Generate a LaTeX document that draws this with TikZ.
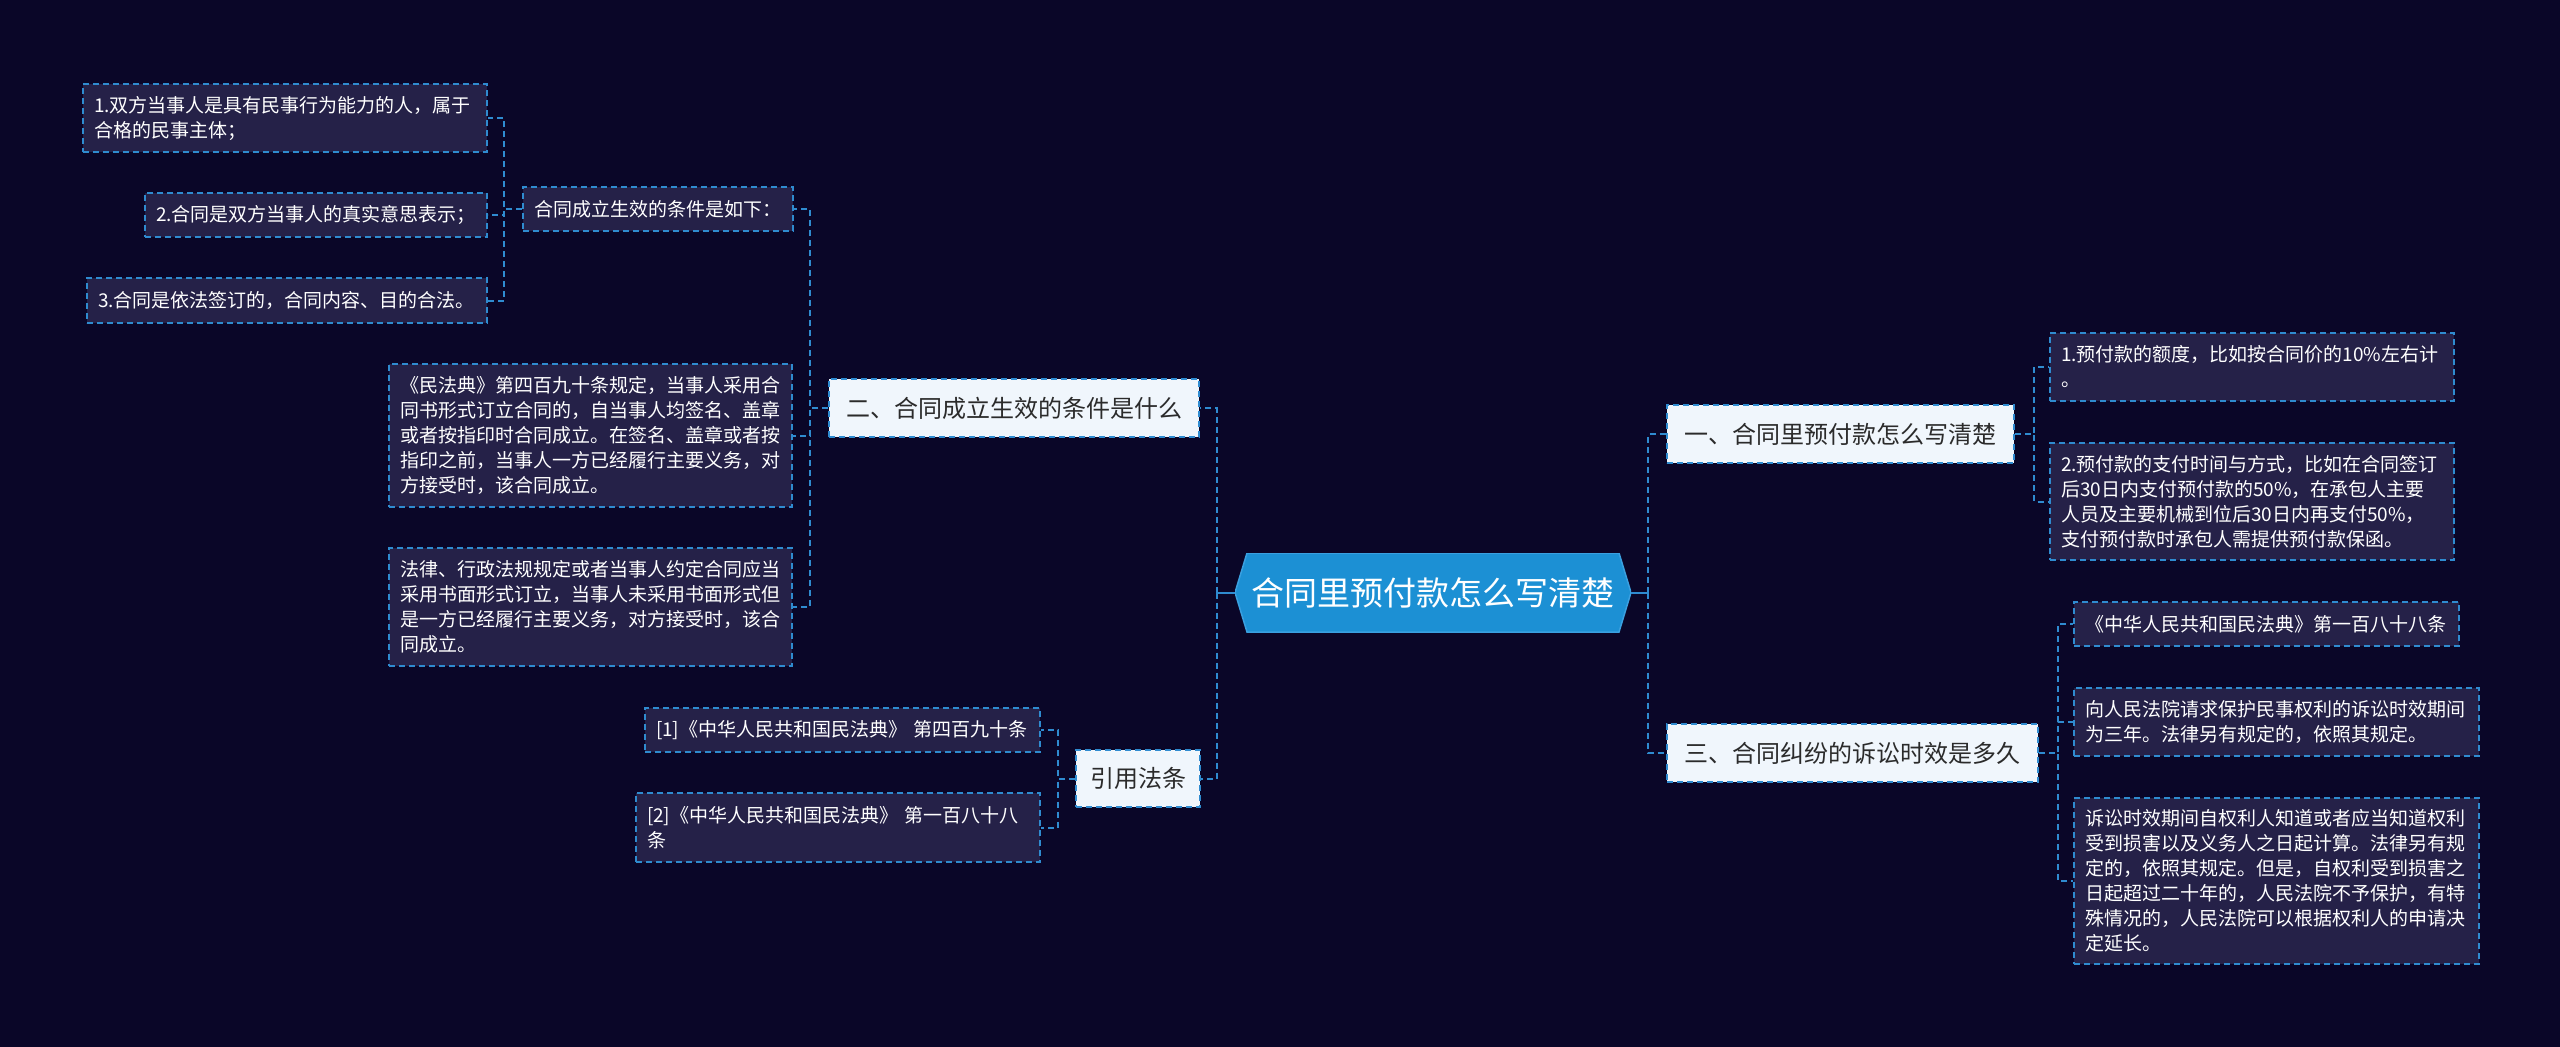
\documentclass[tikz,border=0pt]{standalone}
\usepackage{fontspec}
\setmainfont{Noto Sans CJK SC}
\usetikzlibrary{calc}
\definecolor{bgc}{HTML}{0A0628}
\definecolor{leaffill}{HTML}{252148}
\definecolor{lineblue}{HTML}{2F8BD0}
\definecolor{topfill}{HTML}{F0F6FC}
\definecolor{toptext}{HTML}{2B2B2B}
\definecolor{hexfill}{HTML}{1C90D4}
\definecolor{hexedge}{HTML}{3AA0E0}
\tikzset{
  boxbase/.style={anchor=north west, inner sep=0pt, line width=2pt, dash pattern=on 6pt off 4pt, draw=lineblue},
  leaf/.style={boxbase, fill=leaffill, text=white, font=\fontsize{19}{25}\selectfont, align=left, inner xsep=11pt},
  lvone/.style={boxbase, fill=topfill, text=toptext, font=\fontsize{24}{30}\selectfont},
  conn/.style={draw=lineblue, line width=2pt, dash pattern=on 6pt off 4pt},
  solidconn/.style={draw=lineblue, line width=2pt},
}
\begin{document}
\begin{tikzpicture}[x=1pt,y=-1pt]
\useasboundingbox (0,0) rectangle (2560,1047);
\fill[bgc] (0,0) rectangle (2560,1047);

% center
\node[minimum width=396pt, minimum height=79pt, inner sep=0pt, text=white,
  font=\fontsize{33}{40}\selectfont,
  path picture={\draw[fill=hexfill, draw=hexedge, line width=1.5pt]
    ([xshift=12pt]path picture bounding box.north west) --
    ([xshift=-12pt]path picture bounding box.north east) --
    (path picture bounding box.east) --
    ([xshift=-12pt]path picture bounding box.south east) --
    ([xshift=12pt]path picture bounding box.south west) --
    (path picture bounding box.west) -- cycle;}] (M) at (1433,592.5) {合同里预付款怎么写清楚};

% left side
\node[leaf, text width=382pt, minimum height=68pt] (a1) at (82,83) {1.双方当事人是具有民事行为能力的人，属于\\合格的民事主体；};
\node[leaf, text width=320pt, minimum height=44pt] (a2) at (144,192) {2.合同是双方当事人的真实意思表示；};
\node[leaf, text width=378pt, minimum height=45pt] (a3) at (86,277) {3.合同是依法签订的，合同内容、目的合法。};
\node[leaf, text width=248pt, minimum height=44pt] (b) at (522,186) {合同成立生效的条件是如下：};
\node[leaf, text width=381pt, minimum height=143pt] (c1) at (388,363) {《民法典》第四百九十条规定，当事人采用合\\同书形式订立合同的，自当事人均签名、盖章\\或者按指印时合同成立。在签名、盖章或者按\\指印之前，当事人一方已经履行主要义务，对\\方接受时，该合同成立。};
\node[leaf, text width=381pt, minimum height=118pt] (c2) at (388,547) {法律、行政法规规定或者当事人约定合同应当\\采用书面形式订立，当事人未采用书面形式但\\是一方已经履行主要义务，对方接受时，该合\\同成立。};
\node[lvone, minimum width=370pt, minimum height=58pt] (B) at (828,378) {二、合同成立生效的条件是什么};
\node[leaf, text width=373pt, minimum height=44pt] (d1) at (644,707) {[1]《中华人民共和国民法典》 第四百九十条};
\node[leaf, text width=382pt, minimum height=69pt] (d2) at (635,792) {[2]《中华人民共和国民法典》 第一百八十八\\条};
\node[lvone, minimum width=124pt, minimum height=57pt] (D) at (1075,749) {引用法条};

% right side
\node[lvone, minimum width=347pt, minimum height=58pt] (R1) at (1666,404) {一、合同里预付款怎么写清楚};
\node[lvone, minimum width=371pt, minimum height=58pt] (R3) at (1666,723) {三、合同纠纷的诉讼时效是多久};
\node[leaf, text width=382pt, minimum height=68pt] (e1) at (2049,332) {1.预付款的额度，比如按合同价的10\%左右计\\。};
\node[leaf, text width=382pt, minimum height=117pt] (e2) at (2049,442) {2.预付款的支付时间与方式，比如在合同签订\\后30日内支付预付款的50\%，在承包人主要\\人员及主要机械到位后30日内再支付50\%，\\支付预付款时承包人需提供预付款保函。};
\node[leaf, text width=363pt, minimum height=44pt] (f1) at (2073,601) {《中华人民共和国民法典》第一百八十八条};
\node[leaf, text width=383pt, minimum height=68pt] (f2) at (2073,687) {向人民法院请求保护民事权利的诉讼时效期间\\为三年。法律另有规定的，依照其规定。};
\node[leaf, text width=383pt, minimum height=166pt] (f3) at (2073,797) {诉讼时效期间自权利人知道或者应当知道权利\\受到损害以及义务人之日起计算。法律另有规\\定的，依照其规定。但是，自权利受到损害之\\日起超过二十年的，人民法院不予保护，有特\\殊情况的，人民法院可以根据权利人的申请决\\定延长。};

% connectors left
\draw[conn] (b.west) -- ++(-18,0) |- (a1.east);
\draw[conn] (b.west) -- ++(-18,0) |- (a2.east);
\draw[conn] (b.west) -- ++(-18,0) |- (a3.east);
\draw[conn] (B.west) -- ++(-18,0) |- (b.east);
\draw[conn] (B.west) -- ++(-18,0) |- (c1.east);
\draw[conn] (B.west) -- ++(-18,0) |- (c2.east);
\draw[conn] (D.west) -- ++(-17,0) |- (d1.east);
\draw[conn] (D.west) -- ++(-17,0) |- (d2.east);
\draw[solidconn] (M.west) -- ++(-18,0) coordinate (ML);
\draw[conn] (ML) |- (B.east);
\draw[conn] (ML) |- (D.east);

% connectors right
\draw[solidconn] (M.east) -- ++(17,0) coordinate (MR);
\draw[conn] (MR) |- (R1.west);
\draw[conn] (MR) |- (R3.west);
\draw[conn] (R1.east) -- ++(19,0) |- (e1.west);
\draw[conn] (R1.east) -- ++(19,0) |- (e2.west);
\draw[conn] (R3.east) -- ++(19,0) |- (f1.west);
\draw[conn] (R3.east) -- ++(19,0) |- (f2.west);
\draw[conn] (R3.east) -- ++(19,0) |- (f3.west);
\end{tikzpicture}
\end{document}
